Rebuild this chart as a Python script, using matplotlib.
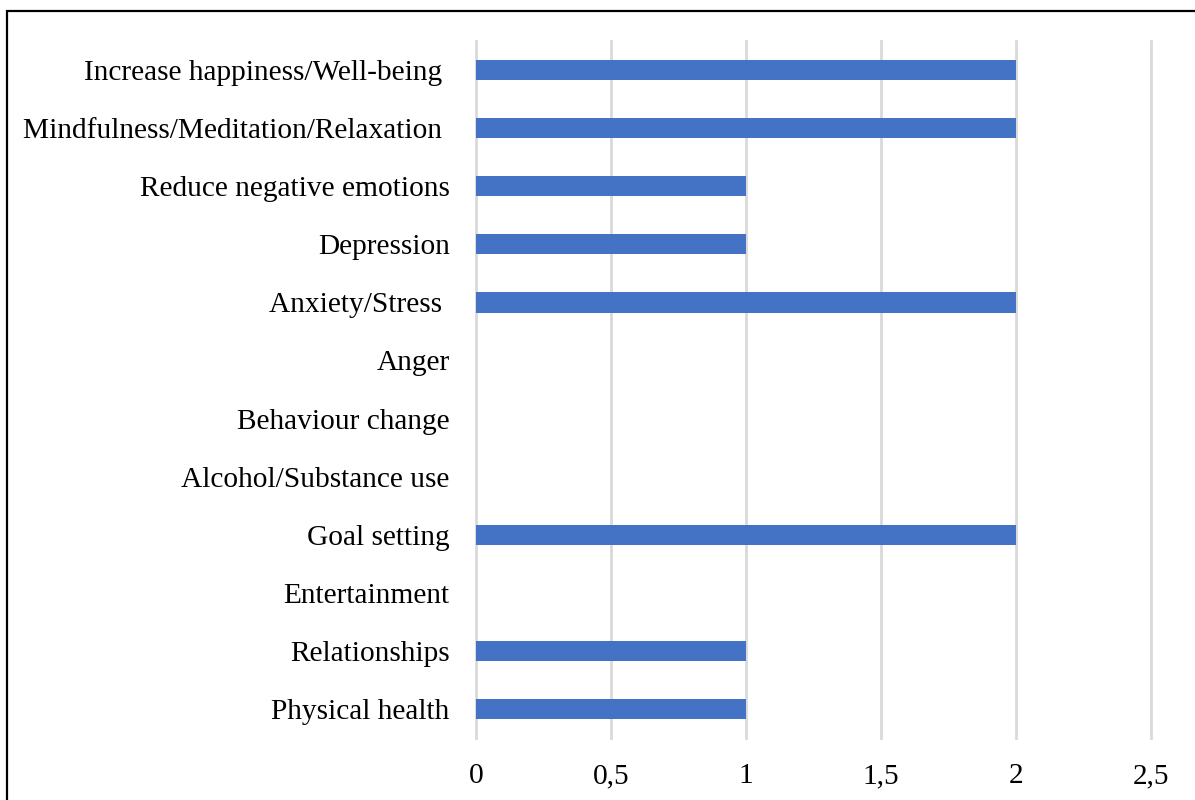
import matplotlib.pyplot as plt
from matplotlib.patches import Rectangle

# categories top to bottom, with the number of studies for each
categories = ["Increase happiness/Well-being ", "Mindfulness/Meditation/Relaxation ",
              "Reduce negative emotions", "Depression", "Anxiety/Stress ",
              "Anger", "Behaviour change", "Alcohol/Substance use",
              "Goal setting", "Entertainment", "Relationships", "Physical health"]
counts = [2, 2, 1, 1, 2, 0, 0, 0, 2, 0, 1, 1]
xticks = [0, 0.5, 1, 1.5, 2, 2.5]
xtick_labels = ["0", "0,5", "1", "1,5", "2", "2,5"]

plt.rcParams['font.family'] = ['Liberation Serif', 'DejaVu Serif']

fig = plt.figure(figsize=(11.95, 8), dpi=100)
ax = fig.add_axes([476/1195, 1 - 738/800, (1151 - 476)/1195, (738 - 41)/800])

ypos = list(range(len(categories)))[::-1]
ax.barh(ypos, counts, height=0.35, color="#4472C4", linewidth=0, zorder=3)

ax.set_xlim(0, 2.5)
ax.set_ylim(-0.5, len(categories) - 0.5)
ax.set_xticks(xticks)
ax.set_xticklabels(xtick_labels, fontsize=21.2)
ax.set_yticks(ypos)
ax.set_yticklabels(categories, fontsize=21.2)
ax.tick_params(axis='both', length=0)
ax.tick_params(axis='y', pad=19)
ax.tick_params(axis='x', pad=18)
for gl in ax.get_xgridlines():
    gl.set_clip_on(False)
ax.grid(axis='x', color="#D9D9D9", linewidth=2, zorder=0)
for gl in ax.get_xgridlines():
    gl.set_clip_on(False)
for s in ax.spines.values():
    s.set_visible(False)

# outer frame around the chart
fig.patches.append(Rectangle((7/1195, -0.05), 1.1, 1 - 11/800 + 0.05,
                             transform=fig.transFigure, fill=False,
                             edgecolor="black", linewidth=1.6))

fig.savefig("out.png", dpi=100)
